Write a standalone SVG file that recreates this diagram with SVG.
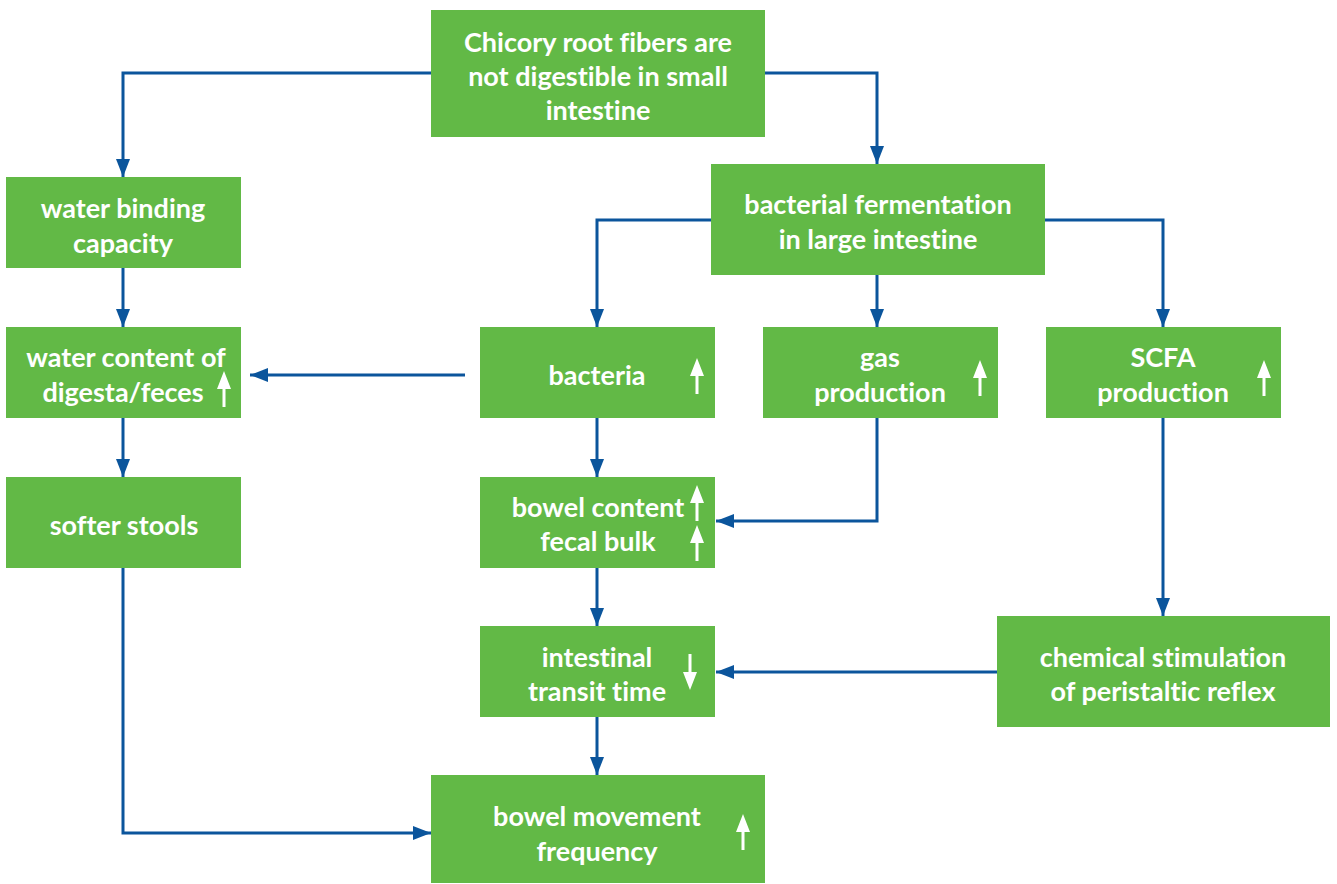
<svg xmlns="http://www.w3.org/2000/svg" width="1337" height="884" viewBox="0 0 1337 884">
<defs>
<style>
.box{fill:#62b946}
.t{font-family:Lato,"Open Sans",sans-serif;font-weight:bold;font-size:27px;fill:#ffffff;text-anchor:middle;font-variant-ligatures:none}
.c{fill:none;stroke:#0b559c;stroke-width:3}
</style>
<marker id="ah" viewBox="0 0 18 14" refX="18" refY="7" markerWidth="18" markerHeight="14" markerUnits="userSpaceOnUse" orient="auto">
<path d="M0,0 L18,7 L0,14 Z" fill="#0b559c"/>
</marker>
<symbol id="up" viewBox="0 0 14 36" width="14" height="36" overflow="visible">
<path d="M7,0 L14,18 L8.5,18 L8.5,36 L5.5,36 L5.5,18 L0,18 Z" fill="#fff"/>
</symbol>
<symbol id="down" viewBox="0 0 14 36" width="14" height="36" overflow="visible">
<path d="M7,36 L14,18 L8.5,18 L8.5,0 L5.5,0 L5.5,18 L0,18 Z" fill="#fff"/>
</symbol>
</defs>
<rect width="1337" height="884" fill="#ffffff"/>

<g id="connectors">
<path class="c" d="M431,73 H123 V177" marker-end="url(#ah)"/>
<path class="c" d="M765,73 H877 V164" marker-end="url(#ah)"/>
<path class="c" d="M711,220 H597 V327" marker-end="url(#ah)"/>
<path class="c" d="M877,275 V327" marker-end="url(#ah)"/>
<path class="c" d="M1045,220 H1163 V327" marker-end="url(#ah)"/>
<path class="c" d="M123,268 V327" marker-end="url(#ah)"/>
<path class="c" d="M123,418 V477" marker-end="url(#ah)"/>
<path class="c" d="M465,375 H250" marker-end="url(#ah)"/>
<path class="c" d="M597,418 V477" marker-end="url(#ah)"/>
<path class="c" d="M877,418 V521 H716" marker-end="url(#ah)"/>
<path class="c" d="M597,568 V626" marker-end="url(#ah)"/>
<path class="c" d="M1163,418 V616" marker-end="url(#ah)"/>
<path class="c" d="M997,672 H716" marker-end="url(#ah)"/>
<path class="c" d="M597,717 V775" marker-end="url(#ah)"/>
<path class="c" d="M123,568 V833 H431" marker-end="url(#ah)"/>
</g>

<g id="n-chicory">
<rect class="box" x="431" y="10" width="334" height="127"/>
<text class="t" x="598" y="52">Chicory root fibers are</text>
<text class="t" x="598" y="86">not digestible in small</text>
<text class="t" x="598" y="120">intestine</text>
</g>

<g id="n-waterbinding">
<rect class="box" x="6" y="177" width="235" height="91"/>
<text class="t" x="123" y="218">water binding</text>
<text class="t" x="123" y="253">capacity</text>
</g>

<g id="n-watercontent">
<rect class="box" x="6" y="327" width="235" height="91"/>
<text class="t" x="126" y="367">water content of</text>
<text class="t" x="123" y="402">digesta/feces</text>
<use href="#up" x="217" y="371"/>
</g>

<g id="n-softer">
<rect class="box" x="6" y="477" width="235" height="91"/>
<text class="t" x="124" y="535">softer stools</text>
</g>

<g id="n-fermentation">
<rect class="box" x="711" y="164" width="334" height="111"/>
<text class="t" x="878" y="214">bacterial fermentation</text>
<text class="t" x="878" y="249">in large intestine</text>
</g>

<g id="n-bacteria">
<rect class="box" x="480" y="327" width="235" height="91"/>
<text class="t" x="597" y="385">bacteria</text>
<use href="#up" x="690" y="358"/>
</g>

<g id="n-gas">
<rect class="box" x="763" y="327" width="235" height="91"/>
<text class="t" x="880" y="367">gas</text>
<text class="t" x="880" y="402">production</text>
<use href="#up" x="973" y="360"/>
</g>

<g id="n-scfa">
<rect class="box" x="1046" y="327" width="235" height="91"/>
<text class="t" x="1163" y="367">SCFA</text>
<text class="t" x="1163" y="402">production</text>
<use href="#up" x="1257" y="360"/>
</g>

<g id="n-bowelcontent">
<rect class="box" x="480" y="477" width="235" height="91"/>
<text class="t" x="598" y="517">bowel content</text>
<text class="t" x="598" y="551">fecal bulk</text>
<use href="#up" x="690" y="485"/>
<use href="#up" x="690" y="525"/>
</g>

<g id="n-transit">
<rect class="box" x="480" y="626" width="235" height="91"/>
<text class="t" x="597" y="667">intestinal</text>
<text class="t" x="597" y="701">transit time</text>
<use href="#down" x="683" y="654"/>
</g>

<g id="n-chemical">
<rect class="box" x="997" y="616" width="333" height="111"/>
<text class="t" x="1163" y="667">chemical stimulation</text>
<text class="t" x="1163" y="701">of peristaltic reflex</text>
</g>

<g id="n-bowelmovement">
<rect class="box" x="431" y="775" width="334" height="108"/>
<text class="t" x="597" y="826">bowel movement</text>
<text class="t" x="597" y="861">frequency</text>
<use href="#up" x="736" y="814"/>
</g>
</svg>
